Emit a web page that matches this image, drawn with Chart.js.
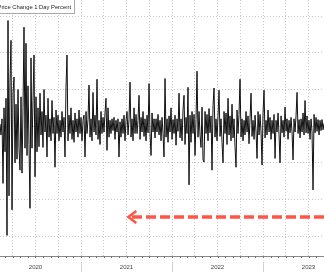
<!DOCTYPE html>
<html>
<head>
<meta charset="utf-8">
<script src="https://cdn.jsdelivr.net/npm/chart.js@4"></script>
<style>
  html, body { margin: 0; padding: 0; background: #fff; }
  #wrap { width: 324px; height: 272px; }
</style>
</head>
<body>
<div id="wrap"><canvas id="grafico"></canvas></div>
<script>
// first point and spacing of the series, in fractional years
var startYear = 2020.11;
var stepYears = 1 / 91;

// 1 day percent change left to right
var changes = [
    0.3, -1.2, 1.0, -7.8, 2.5, -3.5, 3.8, -14.9, 14.4, -9.5,
    6.0, 11.7, -11.4, 4.5, 6.7, -5.0, 3.0, -4.5, 5.0, -3.0,
    -6.0, 4.0, -6.4, 2.5, 13.5, -3.0, 11.3, -4.0, 5.5, -2.5,
    -11.2, 9.3, -3.0, 3.5, 9.7, -6.9, 4.0, -3.5, 2.5, -2.8,
    4.5, -1.2, 2.0, -2.9, 5.0, -0.8, 1.5, -4.2, 3.8, -1.5,
    1.0, -2.0, 3.5, -1.0, 1.2, -5.6, 2.2, -1.0, 1.5, -2.0,
    0.8, -1.5, 2.0, -0.8, 1.2, -4.2, 5.3, 9.7, -2.0, 1.5,
    -1.0, 2.5, -1.8, 0.8, -2.2, 1.8, -0.8, 1.0, -1.5, 2.2,
    -1.0, 1.2, -2.0, 0.8, 1.5, -4.2, 2.0, -1.0, 0.9, 5.6,
    -1.5, 1.0, -2.0, 4.6, -0.8, 1.5, -1.2, 6.4, -1.8, 0.8,
    -2.5, 2.0, -1.0, 1.2, -0.8, 1.8, 3.8, -3.3, 2.5, -1.5,
    0.8, -1.0, 1.0, -0.6, 1.2, -1.8, 0.8, -0.8, 1.0, -4.2,
    0.6, -1.5, 1.0, -1.0, 1.5, -2.0, 0.8, 2.0, -1.2, 0.9,
    6.0, -1.5, 1.0, -2.0, 2.5, -1.0, 1.6, -1.0, 0.8, 4.2,
    -1.8, 1.2, -0.8, 2.0, -1.4, 1.0, -2.0, 1.5, -0.9, 5.8,
    -1.0, -4.0, 1.8, -0.8, 1.0, -1.6, 1.0, -0.8, 1.6, -1.2,
    0.8, -2.0, 1.2, -1.0, -4.2, 6.5, -1.5, 1.0, -2.2, 1.4,
    -0.8, 2.5, -1.8, 0.9, -1.0, 1.5, -2.6, 1.0, -0.7, 4.5,
    -1.6, 1.0, -2.0, 2.2, 4.2, -2.5, 1.2, -1.0, 5.3, -8.0,
    1.5, -2.2, 2.0, -1.0, 1.6, -4.0, 0.9, 7.5, -1.5, 2.0,
    -1.2, -2.9, 2.6, -4.6, -4.9, 2.0, -1.0, 1.6, -2.0, 2.4,
    -0.9, 1.4, -6.0, 2.8, 5.2, -1.5, 1.0, -2.0, 1.5, 4.9,
    -1.4, 1.0, -2.2, -5.0, 2.0, -1.0, 1.8, -2.5, 3.8, -1.2,
    1.4, -2.0, 3.0, -1.6, 1.0, -2.8, -5.6, 2.2, -1.0, 1.6,
    6.4, -1.5, 1.0, -2.0, 0.8, -1.2, 2.0, -0.8, 1.4, -2.4,
    1.0, 4.5, -1.4, 0.8, -1.8, 1.5, -0.8, -4.4, 2.0, -1.2,
    1.6, -0.8, -5.3, 1.8, 4.9, -1.6, 0.8, -1.2, 2.2, -0.8,
    1.2, -1.8, 0.8, -1.0, 1.6, -4.4, 0.8, -0.8, 1.8, -1.2,
    -5.0, 1.4, -0.9, 0.8, -1.5, 2.6, -0.7, 1.0, -1.8, 0.8,
    -0.9, 1.2, -0.8, -4.6, 1.0, -0.8, 1.4, 4.6, -1.0, 0.9,
    -1.6, 1.0, -0.8, 1.8, -1.2, 3.5, -0.9, 1.4, -1.0, 0.8,
    -1.8, 1.0, -0.8, -8.7, 1.6, -0.9, 1.2, -0.7, 0.9, -1.2,
    0.8, -0.6, 0.9, -0.5, 0.4
];

var yearLabels = ["2020", "2021", "2022", "2023"];
var seriesName = "Price Change 1 Day Percent";

// red dashed arrow: y level and x span in data units
var arrowLevel = -12.4;
var arrowFrom = 2023.67;
var arrowTo = 2021.52;

var points = changes.map(function (v, i) {
    return { x: startYear + i * stepYears, y: v };
});

var extras = {
    id: "extras",
    afterDatasetsDraw: function (chart) {
        var ctx = chart.ctx;
        var xs = chart.scales.x;
        var ys = chart.scales.y;
        var bottom = chart.chartArea.bottom;

        // year separators under the axis
        ctx.save();
        ctx.strokeStyle = "#d0d0d0";
        ctx.lineWidth = 1;
        for (var yr = 2021; yr <= 2023; yr++) {
            var px = Math.round(xs.getPixelForValue(yr)) + 0.5;
            ctx.beginPath();
            ctx.moveTo(px, bottom + 6);
            ctx.lineTo(px, 272);
            ctx.stroke();
        }
        // small monthly ticks on the axis line
        ctx.strokeStyle = "#777";
        for (var m = 0; m < 12 * 5; m++) {
            var mx = Math.round(xs.getPixelForValue(2020 + m / 12)) + 0.5;
            ctx.beginPath();
            ctx.moveTo(mx, bottom);
            ctx.lineTo(mx, bottom + 2);
            ctx.stroke();
        }
        ctx.restore();

        // arrow
        var ay = ys.getPixelForValue(arrowLevel);
        var ax1 = xs.getPixelForValue(arrowFrom);
        var ax2 = xs.getPixelForValue(arrowTo);
        ctx.save();
        ctx.strokeStyle = "#ff5548";
        ctx.lineWidth = 3.5;
        ctx.setLineDash([10, 4]);
        ctx.beginPath();
        ctx.moveTo(ax1, ay);
        ctx.lineTo(ax2 + 3, ay);
        ctx.stroke();
        ctx.setLineDash([]);
        ctx.lineWidth = 2.5;
        ctx.beginPath();
        ctx.moveTo(ax2 + 8, ay - 6);
        ctx.lineTo(ax2, ay);
        ctx.lineTo(ax2 + 8, ay + 6);
        ctx.stroke();
        ctx.restore();

        // legend box, cut off at the left edge
        ctx.save();
        ctx.fillStyle = "#fff";
        ctx.strokeStyle = "#a8a8a8";
        ctx.lineWidth = 1;
        ctx.fillRect(-2, -2, 76.5, 15.5);
        ctx.strokeRect(-2, -2, 76.5, 15.5);
        ctx.fillStyle = "#222";
        ctx.font = "5.8px 'Liberation Sans', Arial, sans-serif";
        ctx.textAlign = "right";
        ctx.textBaseline = "middle";
        ctx.fillText(chart.data.datasets[0].label, 71, 7);
        ctx.restore();
    }
};

document.addEventListener("DOMContentLoaded", function () {

    new Chart(document.getElementById("grafico"), {
        type: "line",
        data: {
            datasets: [
                {
                    label: seriesName,
                    data: points,
                    borderColor: "#111",
                    borderWidth: 1,
                    pointRadius: 0,
                    tension: 0
                }
            ]
        },
        plugins: [extras],
        options: {
            responsive: true,
            maintainAspectRatio: false,
            animation: false,
            layout: { padding: 0 },
            plugins: {
                legend: { display: false },
                tooltip: { enabled: false }
            },
            scales: {
                x: {
                    type: "linear",
                    min: 2020.11,
                    max: 2023.67,
                    afterBuildTicks: function (scale) {
                        var t = [];
                        for (var q = 2020.25; q < 2023.7; q += 0.25) {
                            t.push({ value: q });
                        }
                        scale.ticks = t;
                    },
                    afterFit: function (scale) { scale.height = 16; },
                    grid: {
                        color: "#c8c8c8",
                        lineWidth: 1,
                        drawTicks: false
                    },
                    border: { display: true, color: "#888", dash: [1, 2] },
                    ticks: {
                        autoSkip: false,
                        maxRotation: 0,
                        padding: 8,
                        color: "#444",
                        font: { size: 6, family: "'Liberation Sans', Arial, sans-serif" },
                        callback: function (v) {
                            var f = v - Math.floor(v);
                            if (Math.abs(f - 0.5) < 0.01) {
                                return yearLabels[Math.floor(v) - 2020];
                            }
                            return "";
                        }
                    }
                },
                y: {
                    min: -17.7,
                    max: 17.2,
                    afterFit: function (scale) { scale.width = 0; },
                    ticks: { display: false, stepSize: 5 },
                    grid: {
                        drawTicks: false,
                        color: function (c) {
                            var v = c.tick ? c.tick.value : 0;
                            return Math.abs(v % 5) < 0.01 ? "#c8c8c8" : "rgba(0,0,0,0)";
                        }
                    },
                    border: { display: false, dash: [1, 2] }
                }
            }
        }
    });

});
</script>
</body>
</html>
